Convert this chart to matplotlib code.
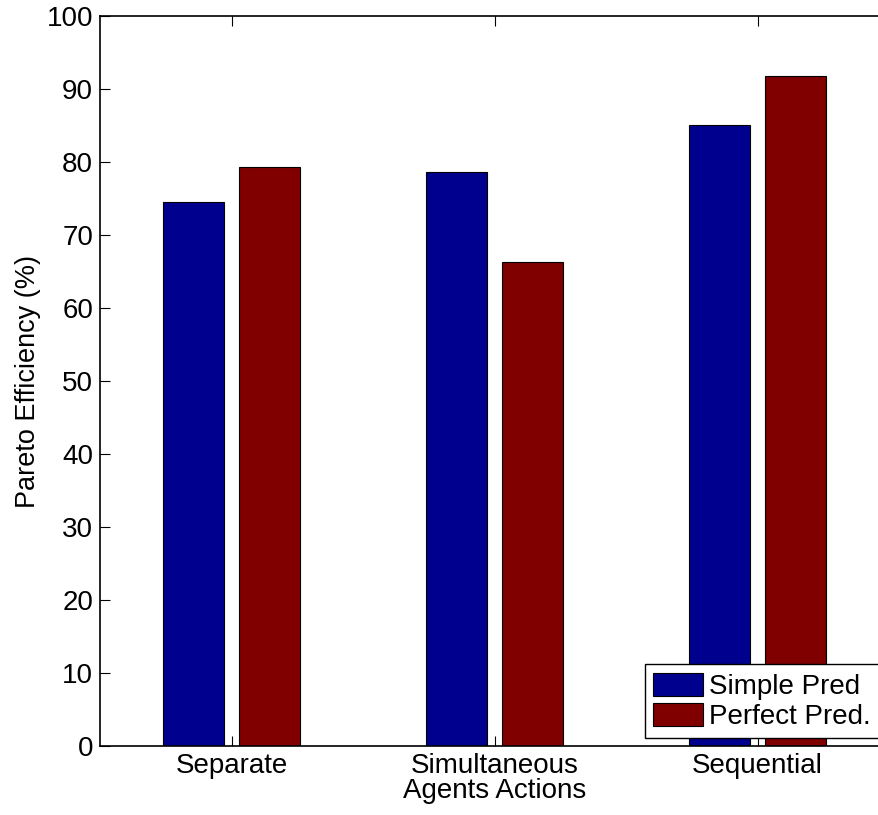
import matplotlib
matplotlib.use("Agg")
import matplotlib.pyplot as plt
import numpy as np

plt.rcParams['font.family'] = ['Liberation Sans', 'DejaVu Sans']

categories = ["Separate", "Simultaneous\nAgents Actions", "Sequential"]
simple_pred = [74.5, 78.6, 85.1]
perfect_pred = [79.3, 66.3, 91.8]
series_names = ["Simple Pred", "Perfect Pred."]

fig = plt.figure(figsize=(8.79, 8.15), dpi=100)
ax = fig.add_axes([100 / 879, 69 / 815, 789 / 879, 730 / 815])

x = np.arange(1, len(categories) + 1)
offset = 0.1445
width = 0.232
ax.bar(x - offset, simple_pred, width, color="#00008f", edgecolor="black",
       linewidth=0.8, label=series_names[0])
ax.bar(x + offset, perfect_pred, width, color="#800000", edgecolor="black",
       linewidth=0.8, label=series_names[1])

ax.set_xlim(0.5, 3.5)
ax.set_ylim(0, 100)
ax.set_yticks(np.arange(0, 101, 10))
ax.set_xticks(x)
ax.set_xticklabels(categories, linespacing=0.97)
ax.tick_params(direction="in", length=7, width=0.8, top=True, right=True,
               labelsize=20, pad=5)
for s in ax.spines.values():
    s.set_linewidth(1.2)
ax.set_ylabel("Pareto Efficiency (%)", fontsize=19.5, labelpad=4)

leg = ax.legend(loc="lower right", bbox_to_anchor=(1.0, 77 / 815),
                bbox_transform=fig.transFigure, borderaxespad=0,
                fontsize=20, handlelength=1.8, handleheight=0.9,
                handletextpad=0.2, labelspacing=0.1, borderpad=0.3,
                fancybox=False, framealpha=1, edgecolor="black")
leg.get_frame().set_linewidth(1.0)

fig.savefig("out.png", dpi=100)
